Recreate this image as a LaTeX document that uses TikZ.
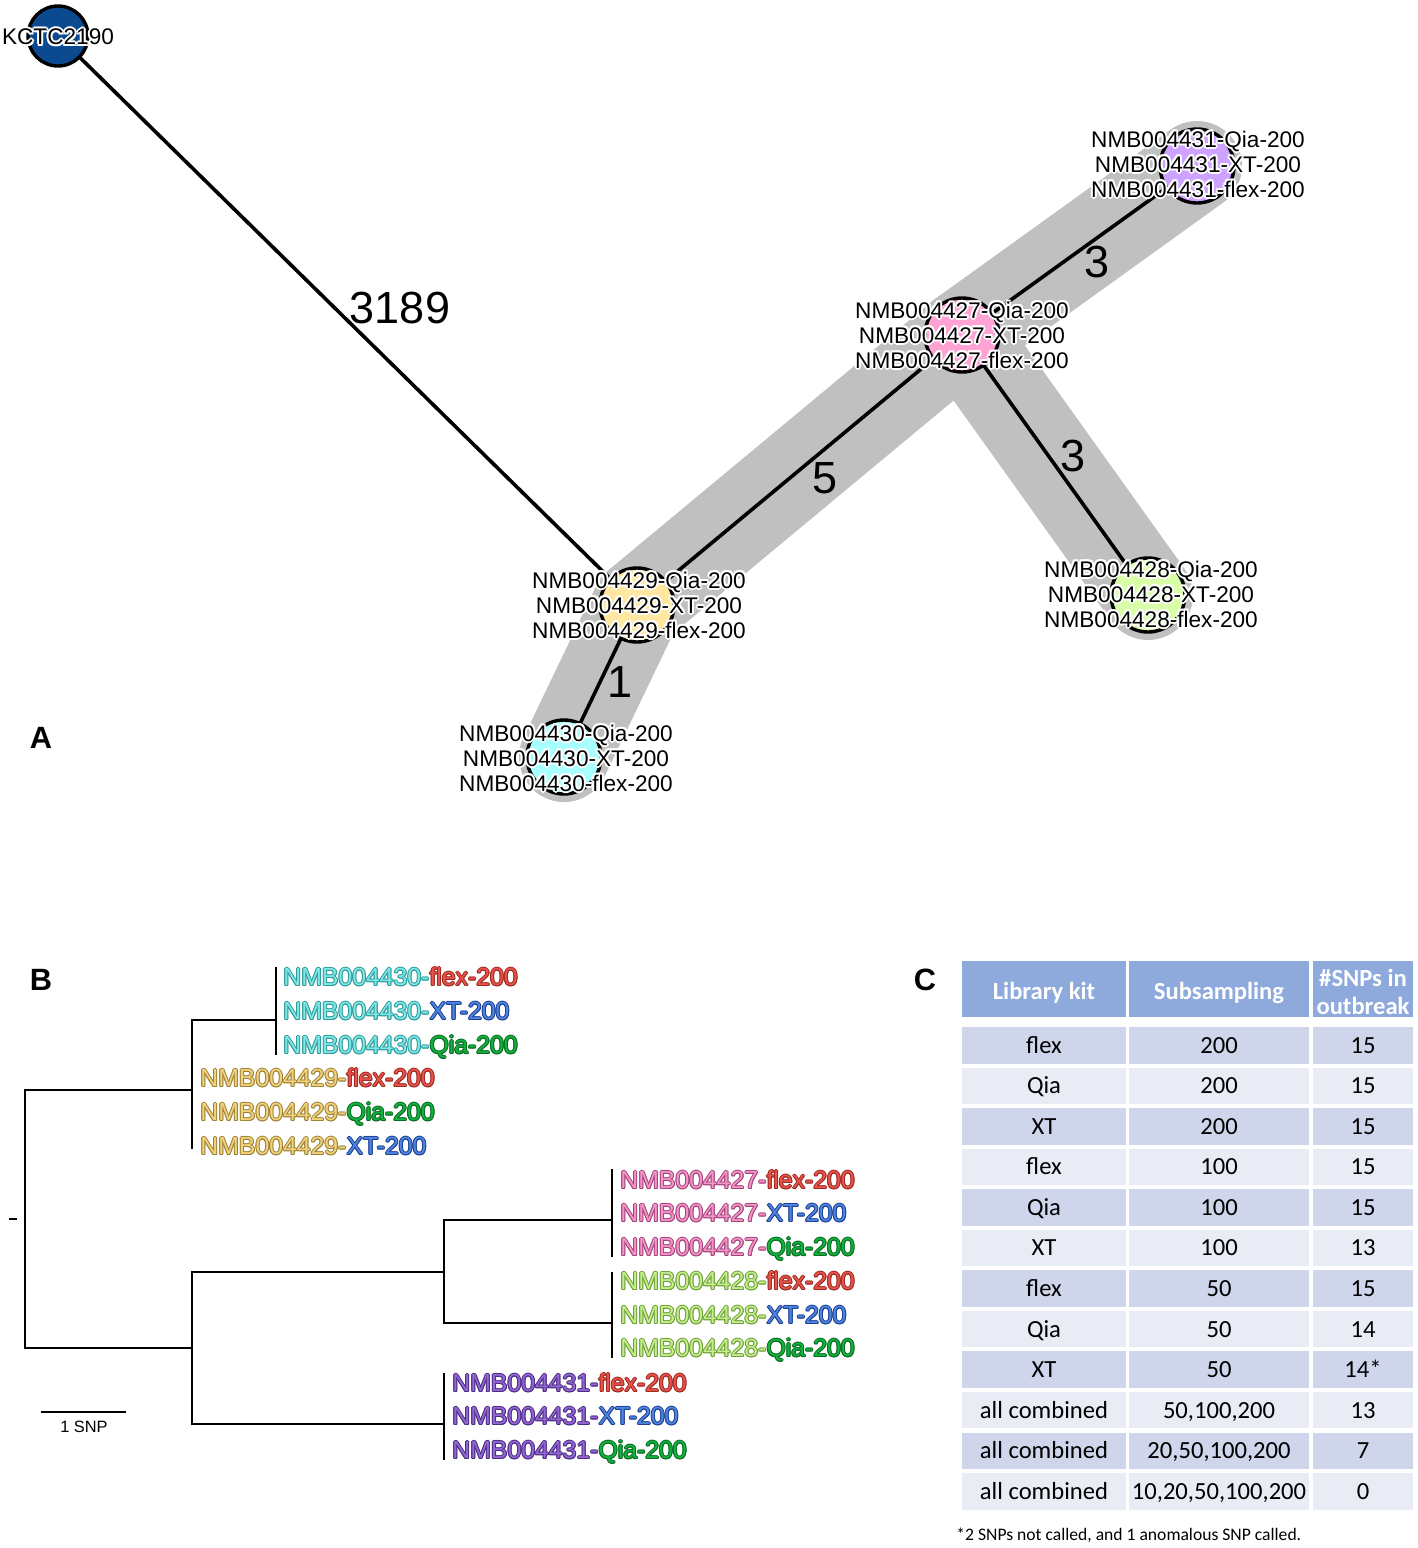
\documentclass[tikz,border=0pt]{standalone}
\usepackage{fontspec}
\setmainfont{Liberation Sans}
\newfontfamily\calib{Carlito}
\definecolor{kblue}{HTML}{0B4A8F}
\definecolor{nyel}{HTML}{FFE7A1}
\definecolor{npink}{HTML}{FFA3D4}
\definecolor{npurp}{HTML}{CDA3FF}
\definecolor{ngreen}{HTML}{D8FFA8}
\definecolor{ncyan}{HTML}{A8FFFF}
\definecolor{bandgray}{HTML}{C0C0C0}
\definecolor{cy}{HTML}{80E6E6}\definecolor{cyo}{HTML}{2E9A9A}
\definecolor{rd}{HTML}{E8544C}\definecolor{rdo}{HTML}{9E2A22}
\definecolor{bl}{HTML}{4F86E0}\definecolor{blo}{HTML}{1E3F95}
\definecolor{gr}{HTML}{12B23E}\definecolor{gro}{HTML}{0A6A22}
\definecolor{ye}{HTML}{F2D27C}\definecolor{yeo}{HTML}{9C8236}
\definecolor{pk}{HTML}{F594C9}\definecolor{pko}{HTML}{A2447A}
\definecolor{lg}{HTML}{C4EE8E}\definecolor{lgo}{HTML}{6E9E36}
\definecolor{pu}{HTML}{9466D2}\definecolor{puo}{HTML}{4A2C84}
\definecolor{thead}{HTML}{8EA9DB}
\definecolor{tdark}{HTML}{CFD5EA}
\definecolor{tlight}{HTML}{E9EBF5}
\newlength\olr
\newcommand\olc[3]{\makebox[0pt][l]{\hspace*{#1}\raisebox{#2}{\textcolor{#3}{\olt}}}}
\newcommand\outl[3]{\def\olt{#3}%
\olc{\olr}{0pt}{#1}\olc{-\olr}{0pt}{#1}\olc{0pt}{\olr}{#1}\olc{0pt}{-\olr}{#1}%
\olc{.7\olr}{.7\olr}{#1}\olc{-.7\olr}{.7\olr}{#1}\olc{.7\olr}{-.7\olr}{#1}\olc{-.7\olr}{-.7\olr}{#1}%
\textcolor{#2}{#3}}
\newcommand\hl[1]{\outl{white}{black}{#1}}
\newcommand\tlab[4]{\outl{#1o}{#1}{#2}\outl{#3o}{#3}{#4}}
\usetikzlibrary{calc}
\pgfdeclarelayer{bands}
\pgfdeclarelayer{edges}
\pgfsetlayers{bands,edges,main}
\begin{document}
\begin{tikzpicture}[x=0.5pt,y=-0.5pt,
  nd/.style={circle, draw=black, line width=1.7pt, minimum size=37pt, inner sep=0pt},
  rootnd/.style={circle, draw=black, line width=1.7pt, minimum size=30pt, inner sep=0pt, fill=kblue},
  lab/.style={align=center, font=\fontsize{11.3}{12.5}\selectfont\setlength\olr{1pt}, inner sep=0pt},
  edge/.style={line width=1.8pt, black},
  band/.style={line width=45pt, line cap=round, line join=round, draw=bandgray},
  elab/.style={font=\fontsize{22.5}{24}\selectfont, inner sep=0pt},
  panel/.style={font=\bfseries\fontsize{15.4}{16}\selectfont, inner sep=0pt},
  tree/.style={line width=1pt, line cap=rect},
  leaf/.style={anchor=west, inner sep=0pt, text height=8.8pt, text depth=0pt, font=\fontsize{12.4}{13}\selectfont\setlength\olr{.5pt}},
  tc/.style={font=\calib\fontsize{12.3}{14}\selectfont, inner sep=0pt, text height=7.9pt, text depth=0pt},
  th/.style={font=\calib\bfseries\fontsize{12.3}{14}\selectfont, text=white, align=center, inner sep=0pt}]
\useasboundingbox (0,0) rectangle (1418,1548);
% ---------- Panel A ----------
\node[rootnd] (k) at (58,36) {};
\node[nd, fill=nyel] (n29) at (637,605) {};
\node[nd, fill=npink] (n27) at (962,335) {};
\node[nd, fill=npurp] (n31) at (1197,166) {};
\node[nd, fill=ngreen] (n28) at (1148,595) {};
\node[nd, fill=ncyan] (n30) at (564,757) {};
\begin{pgfonlayer}{bands}
\draw[band] (n29.center) -- (n27.center);
\draw[band] (n27.center) -- (n31.center);
\draw[band] (n27.center) -- (n28.center);
\draw[band] (n29.center) -- (n30.center);
\end{pgfonlayer}
\begin{pgfonlayer}{edges}
\draw[edge] (k.center) -- (n29.center);
\draw[edge] (n29.center) -- (n27.center);
\draw[edge] (n27.center) -- (n31.center);
\draw[edge] (n27.center) -- (n28.center);
\draw[edge] (n29.center) -- (n30.center);
\end{pgfonlayer}
\node[lab] (kl) at (58,37) {\hl{KCTC2190}};
\node[lab] (l31) at (1198,164) {\hl{NMB004431-Qia-200}\\\hl{NMB004431-XT-200}\\\hl{NMB004431-flex-200}};
\node[lab] (l27) at (962,335) {\hl{NMB004427-Qia-200}\\\hl{NMB004427-XT-200}\\\hl{NMB004427-flex-200}};
\node[lab] (l29) at (639,605) {\hl{NMB004429-Qia-200}\\\hl{NMB004429-XT-200}\\\hl{NMB004429-flex-200}};
\node[lab] (l28) at (1151,594) {\hl{NMB004428-Qia-200}\\\hl{NMB004428-XT-200}\\\hl{NMB004428-flex-200}};
\node[lab] (l30) at (566,758) {\hl{NMB004430-Qia-200}\\\hl{NMB004430-XT-200}\\\hl{NMB004430-flex-200}};
\node[elab] (e1) at (400,308) {3189};
\node[elab] (e2) at (825,478) {5};
\node[elab] (e3) at (1097,262) {3};
\node[elab] (e4) at (1073,456) {3};
\node[elab] (e5) at (620,682) {1};
\node[panel] (pA) at (41,738) {A};
% ---------- Panel B ----------
\node[panel] (pB) at (41,980) {B};
\draw[tree] (25,1090) -- (25,1348);
\draw[tree] (25,1090) -- (192,1090);
\draw[tree] (192,1020) -- (192,1148);
\draw[tree] (192,1020) -- (276,1020);
\draw[tree] (276,968) -- (276,1054);
\draw[tree] (25,1348) -- (192,1348);
\draw[tree] (192,1272) -- (192,1424);
\draw[tree] (192,1272) -- (444,1272);
\draw[tree] (444,1220) -- (444,1323);
\draw[tree] (444,1220) -- (612,1220);
\draw[tree] (612,1170) -- (612,1256);
\draw[tree] (444,1323) -- (612,1323);
\draw[tree] (612,1273) -- (612,1357);
\draw[tree] (192,1424) -- (444,1424);
\draw[tree] (444,1374) -- (444,1459);
\draw[line width=1pt] (9,1219) -- (17,1219);
\node[leaf] (t1) at (283,977) {\tlab{cy}{NMB004430-}{rd}{flex-200}};
\node[leaf] (t2) at (283,1011) {\tlab{cy}{NMB004430-}{bl}{XT-200}};
\node[leaf] (t3) at (283,1045) {\tlab{cy}{NMB004430-}{gr}{Qia-200}};
\node[leaf] (t4) at (200,1078) {\tlab{ye}{NMB004429-}{rd}{flex-200}};
\node[leaf] (t5) at (200,1112) {\tlab{ye}{NMB004429-}{gr}{Qia-200}};
\node[leaf] (t6) at (200,1146) {\tlab{ye}{NMB004429-}{bl}{XT-200}};
\node[leaf] (t7) at (620,1180) {\tlab{pk}{NMB004427-}{rd}{flex-200}};
\node[leaf] (t8) at (620,1213) {\tlab{pk}{NMB004427-}{bl}{XT-200}};
\node[leaf] (t9) at (620,1247) {\tlab{pk}{NMB004427-}{gr}{Qia-200}};
\node[leaf] (t10) at (620,1281) {\tlab{lg}{NMB004428-}{rd}{flex-200}};
\node[leaf] (t11) at (620,1315) {\tlab{lg}{NMB004428-}{bl}{XT-200}};
\node[leaf] (t12) at (620,1348) {\tlab{lg}{NMB004428-}{gr}{Qia-200}};
\node[leaf] (t13) at (452,1383) {\tlab{pu}{NMB004431-}{rd}{flex-200}};
\node[leaf] (t14) at (452,1416) {\tlab{pu}{NMB004431-}{bl}{XT-200}};
\node[leaf] (t15) at (452,1450) {\tlab{pu}{NMB004431-}{gr}{Qia-200}};
\draw[line width=1pt] (41,1412) -- (126,1412);
\node[inner sep=0pt, font=\fontsize{8.2}{9}\selectfont] (sb) at (84,1427) {1 SNP};
% ---------- Panel C ----------
\node[panel] (pC) at (925,980) {C};
\fill[thead] (962,961) rectangle (1126,1017);
\fill[thead] (1129,961) rectangle (1309,1017);
\fill[thead] (1312.5,961) rectangle (1413,1017);
\node[th] (h1) at (1044,993) {Library kit};
\node[th] (h2) at (1219,993) {Subsampling};
\node[th] (h3) at (1363,992) {\#SNPs in\\outbreak};
\newcommand\trow[5]{%
 \pgfmathsetmacro\ry{1045.25+(#1-1)*40.55}%
 \fill[#5] (962,\ry-18.25) rectangle (1126,\ry+18.25);
 \fill[#5] (1129,\ry-18.25) rectangle (1309,\ry+18.25);
 \fill[#5] (1312.5,\ry-18.25) rectangle (1413,\ry+18.25);
 \node[tc] (ra#1) at (1044,\ry) {#2};
 \node[tc] (rb#1) at (1219,\ry) {#3};
 \node[tc] (rc#1) at (1363,\ry) {#4};}
\trow{1}{flex}{200}{15}{tdark}
\trow{2}{Qia}{200}{15}{tlight}
\trow{3}{XT}{200}{15}{tdark}
\trow{4}{flex}{100}{15}{tlight}
\trow{5}{Qia}{100}{15}{tdark}
\trow{6}{XT}{100}{13}{tlight}
\trow{7}{flex}{50}{15}{tdark}
\trow{8}{Qia}{50}{14}{tlight}
\trow{9}{XT}{50}{14*}{tdark}
\trow{10}{all combined}{50,100,200}{13}{tlight}
\trow{11}{all combined}{20,50,100,200}{7}{tdark}
\trow{12}{all combined}{10,20,50,100,200}{0}{tlight}
\node[anchor=west, inner sep=0pt, font=\calib\fontsize{8.8}{10}\selectfont] (fn) at (956,1535) {*2 SNPs not called, and 1 anomalous SNP called.};
\end{tikzpicture}
\end{document}
